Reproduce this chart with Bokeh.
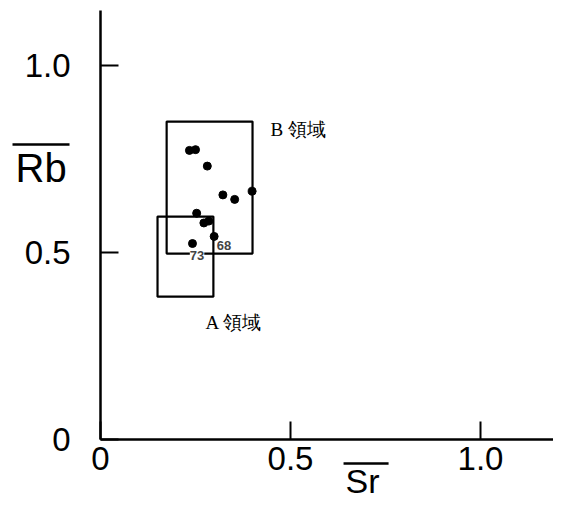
from bokeh.plotting import figure
from bokeh.models import Range1d, FixedTicker, LabelSet, ColumnDataSource
from bokeh.core.properties import value
from bokeh.embed import file_html
from bokeh.resources import INLINE

# data
sr = [0.234, 0.250, 0.281, 0.322, 0.353, 0.399, 0.253, 0.272, 0.285, 0.299, 0.242]
rb = [0.773, 0.775, 0.731, 0.654, 0.642, 0.664, 0.605, 0.579, 0.584, 0.543, 0.524]

box_names = ["B 領域", "A 領域"]
box_left = [0.174, 0.150]
box_right = [0.400, 0.297]
box_bottom = [0.497, 0.382]
box_top = [0.850, 0.596]
box_label_x = [0.447, 0.276]
box_label_y = [0.829, 0.313]

sample_ids = ["73", "68"]
sample_x = [0.254, 0.325]
sample_y = [0.492, 0.519]

tick_values = [0, 0.5, 1.0]
tick_labels = ["0", "0.5", "1.0"]

axis_titles = ["Rb", "Sr"]
title_x = [-0.2237, 0.6447]
title_y = [0.7246, -0.1110]
title_size = ["40px", "34px"]
bar_x0 = [-0.2316, 0.6395]
bar_x1 = [-0.0816, 0.7580]
bar_y = [0.7888, -0.0640]

X_MAX, Y_MAX = 1.192, 1.147

p = figure(width=553, height=501, output_backend="svg", toolbar_location=None,
           x_range=Range1d(-0.2632, X_MAX), y_range=Range1d(-0.1658, 1.1738),
           min_border_left=0, min_border_right=0, min_border_top=0, min_border_bottom=0)
p.outline_line_color = None
p.xgrid.visible = False
p.ygrid.visible = False

overrides = {v: t for v, t in zip(tick_values, tick_labels)}
for ax in (p.xaxis[0], p.yaxis[0]):
    ax.fixed_location = 0
    ax.ticker = FixedTicker(ticks=tick_values)
    ax.major_label_overrides = overrides
    ax.minor_tick_line_color = None
    ax.major_tick_in = 18
    ax.major_tick_out = 0
    ax.major_tick_line_width = 2
    ax.axis_line_width = 2.5
    ax.axis_line_color = "black"
    ax.major_tick_line_color = "black"
    ax.major_label_text_font = "Liberation Sans"
    ax.major_label_text_font_size = "33px"
    ax.major_label_text_color = "black"
p.xaxis.bounds = (0, X_MAX)
p.yaxis.bounds = (0, Y_MAX)
p.xaxis.major_label_standoff = 8
p.yaxis.major_label_standoff = 30

p.quad(left=box_left, right=box_right, bottom=box_bottom, top=box_top,
       fill_color=None, line_color="black", line_width=2.2)

p.scatter(sr, rb, size=8, color="black")

src = ColumnDataSource(dict(x=sample_x, y=sample_y, t=sample_ids))
p.add_layout(LabelSet(x="x", y="y", text="t", source=src, text_align="center",
                      text_baseline="middle", text_font=value("Liberation Sans"),
                      text_font_style="bold", text_font_size="13px",
                      background_fill_color="white"))

p.text(box_label_x, box_label_y, text=box_names, text_font=value("Liberation Serif"),
       text_font_size="19px", text_baseline="middle", text_align="left", color="black")

# axis titles with overline
p.text(title_x, title_y, text=axis_titles, text_font=value("Liberation Sans"),
       text_font_size=title_size, text_baseline="alphabetic", text_align="left",
       color="black")
p.segment(x0=bar_x0, y0=bar_y, x1=bar_x1, y1=bar_y, line_width=2.5, line_color="black")

open("out.html", "w").write(file_html(p, INLINE))
